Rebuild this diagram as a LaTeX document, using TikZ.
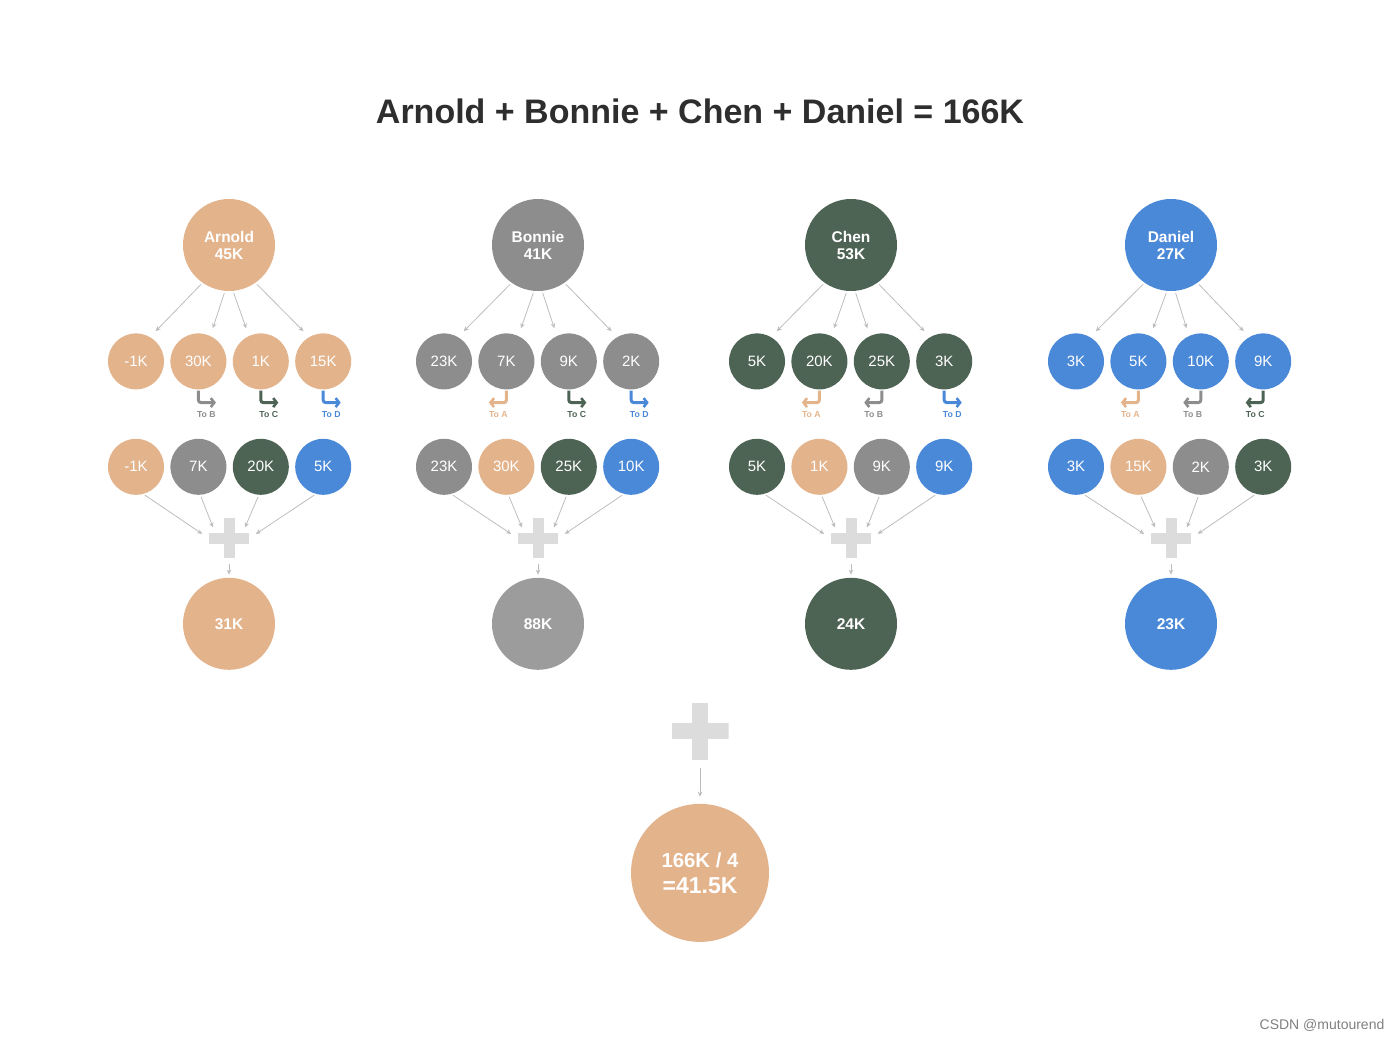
\documentclass[tikz,border=0pt]{standalone}
\usepackage{fontspec}
\setmainfont{Liberation Sans}
\usetikzlibrary{arrows.meta,positioning,calc}
\definecolor{ctan}{HTML}{E3B38B}
\definecolor{cgray}{HTML}{8D8D8D}
\definecolor{cgraylt}{HTML}{9C9C9C}
\definecolor{cgreen}{HTML}{4D6354}
\definecolor{cblue}{HTML}{4A88D8}
\definecolor{plusgray}{HTML}{DCDCDC}
\definecolor{linkgray}{HTML}{BDBDBD}
\definecolor{titlegray}{HTML}{2E2E2E}
\tikzset{
  person/.style={circle, minimum size=92pt, inner sep=0pt, text=white, align=center, font=\bfseries\fontsize{15.5}{17}\selectfont},
  share/.style={circle, minimum size=56pt, inner sep=0pt, text=white, font=\fontsize{15}{17}\selectfont},
  final/.style={circle, minimum size=138pt, inner sep=0pt, text=white, align=center, font=\bfseries\fontsize{23}{26}\selectfont},
  plussign/.style 2 args={minimum size=#1, inner sep=0pt, path picture={
      \fill[plusgray] ([xshift=-#1/2, yshift=-#2/2]path picture bounding box.center) rectangle ([xshift=#1/2, yshift=#2/2]path picture bounding box.center);
      \fill[plusgray] ([xshift=-#2/2, yshift=-#1/2]path picture bounding box.center) rectangle ([xshift=#2/2, yshift=#1/2]path picture bounding box.center);}},
  link/.style={-{Stealth[length=5pt,width=4.5pt]}, linkgray, line width=0.8pt, shorten >=8pt, shorten <=2pt},
  xfer/.style={-{Straight Barb[length=3.5pt,width=9pt,line width=2.6pt]}, line width=3pt, rounded corners=2.5pt, shorten <=1pt},
  tolbl/.style={font=\bfseries\fontsize{8.7}{10}\selectfont, inner xsep=0pt, inner ysep=8.9pt}
}

\begin{document}
\begin{tikzpicture}[x=1pt, y=1pt, node distance=6pt]
\useasboundingbox (0,0) rectangle (1400,-1040);
\node[font=\bfseries\fontsize{34}{40}\selectfont, text=titlegray] (title) at (700,-111) {Arnold + Bonnie + Chen + Daniel = 166K};

% Arnold
\node[person, fill=ctan] (ga) at (229,-245) {Arnold\\45K};
\node[share, fill=ctan, below=42pt of ga, xshift=-93pt] (ga1) {-1K};
\node[share, fill=ctan, right=of ga1] (ga2) {30K};
\node[share, fill=ctan, right=of ga2] (ga3) {1K};
\node[share, fill=ctan, right=of ga3] (ga4) {15K};
\node[tolbl, text=cgray, below=13pt of ga2, xshift=8pt] (xa2) {To B};
\node[tolbl, text=cgreen, below=13pt of ga3, xshift=8pt] (xa3) {To C};
\node[tolbl, text=cblue, below=13pt of ga4, xshift=8pt] (xa4) {To D};
\draw[xfer, cgray] (ga2.south) |- (xa2.north east);
\draw[xfer, cgreen] (ga3.south) |- (xa3.north east);
\draw[xfer, cblue] (ga4.south) |- (xa4.north east);
\node[share, fill=ctan, below=49pt of ga1] (ra1) {-1K};
\node[share, fill=cgray, right=of ra1] (ra2) {7K};
\node[share, fill=cgreen, right=of ra2] (ra3) {20K};
\node[share, fill=cblue, right=of ra3] (ra4) {5K};
\node[plussign={40pt}{11pt}, below=227pt of ga] (pa) {};
\node[person, fill=ctan, below=19pt of pa] (sa) {31K};

% Bonnie
\node[person, fill=cgray] (gb) at (538,-245) {Bonnie\\41K};
\node[share, fill=cgray, below=42pt of gb, xshift=-94pt] (gb1) {23K};
\node[share, fill=cgray, right=of gb1] (gb2) {7K};
\node[share, fill=cgray, right=of gb2] (gb3) {9K};
\node[share, fill=cgray, right=of gb3] (gb4) {2K};
\node[tolbl, text=ctan, below=13pt of gb2, xshift=-8pt] (xb2) {To A};
\node[tolbl, text=cgreen, below=13pt of gb3, xshift=8pt] (xb3) {To C};
\node[tolbl, text=cblue, below=13pt of gb4, xshift=8pt] (xb4) {To D};
\draw[xfer, ctan] (gb2.south) |- (xb2.north west);
\draw[xfer, cgreen] (gb3.south) |- (xb3.north east);
\draw[xfer, cblue] (gb4.south) |- (xb4.north east);
\node[share, fill=cgray, below=49pt of gb1] (rb1) {23K};
\node[share, fill=ctan, right=of rb1] (rb2) {30K};
\node[share, fill=cgreen, right=of rb2] (rb3) {25K};
\node[share, fill=cblue, right=of rb3] (rb4) {10K};
\node[plussign={40pt}{11pt}, below=227pt of gb] (pb) {};
\node[person, fill=cgraylt, below=19pt of pb] (sb) {88K};

% Chen
\node[person, fill=cgreen] (gc) at (851,-245) {Chen\\53K};
\node[share, fill=cgreen, below=42pt of gc, xshift=-94pt] (gc1) {5K};
\node[share, fill=cgreen, right=of gc1] (gc2) {20K};
\node[share, fill=cgreen, right=of gc2] (gc3) {25K};
\node[share, fill=cgreen, right=of gc3] (gc4) {3K};
\node[tolbl, text=ctan, below=13pt of gc2, xshift=-8pt] (xc2) {To A};
\node[tolbl, text=cgray, below=13pt of gc3, xshift=-8pt] (xc3) {To B};
\node[tolbl, text=cblue, below=13pt of gc4, xshift=8pt] (xc4) {To D};
\draw[xfer, ctan] (gc2.south) |- (xc2.north west);
\draw[xfer, cgray] (gc3.south) |- (xc3.north west);
\draw[xfer, cblue] (gc4.south) |- (xc4.north east);
\node[share, fill=cgreen, below=49pt of gc1] (rc1) {5K};
\node[share, fill=ctan, right=of rc1] (rc2) {1K};
\node[share, fill=cgray, right=of rc2] (rc3) {9K};
\node[share, fill=cblue, right=of rc3] (rc4) {9K};
\node[plussign={40pt}{11pt}, below=227pt of gc] (pc) {};
\node[person, fill=cgreen, below=19pt of pc] (sc) {24K};

% Daniel
\node[person, fill=cblue] (gd) at (1171,-245) {Daniel\\27K};
\node[share, fill=cblue, below=42pt of gd, xshift=-95pt] (gd1) {3K};
\node[share, fill=cblue, right=of gd1] (gd2) {5K};
\node[share, fill=cblue, right=of gd2] (gd3) {10K};
\node[share, fill=cblue, right=of gd3] (gd4) {9K};
\node[tolbl, text=ctan, below=13pt of gd2, xshift=-8pt] (xd2) {To A};
\node[tolbl, text=cgray, below=13pt of gd3, xshift=-8pt] (xd3) {To B};
\node[tolbl, text=cgreen, below=13pt of gd4, xshift=-8pt] (xd4) {To C};
\draw[xfer, ctan] (gd2.south) |- (xd2.north west);
\draw[xfer, cgray] (gd3.south) |- (xd3.north west);
\draw[xfer, cgreen] (gd4.south) |- (xd4.north west);
\node[share, fill=cblue, below=49pt of gd1] (rd1) {3K};
\node[share, fill=ctan, right=of rd1] (rd2) {15K};
\node[share, fill=cgray, right=of rd2] (rd3) {2K};
\node[share, fill=cgreen, right=of rd3] (rd4) {3K};
\node[plussign={40pt}{11pt}, below=227pt of gd] (pd) {};
\node[person, fill=cblue, below=19pt of pd] (sd) {23K};

% links inside each group
\foreach \g in {a,b,c,d}{
  \draw[link] (g\g.235) -- (g\g1.60);
  \draw[link] (g\g.265) -- (g\g2.65);
  \draw[link] (g\g.275) -- (g\g3.115);
  \draw[link] (g\g.305) -- (g\g4.120);
  \draw[link] (r\g1.285) -- (p\g.west);
  \draw[link, shorten >=0pt] (r\g2.274) -- ($(p\g)+(-16,11)$);
  \draw[link, shorten >=0pt] (r\g3.266) -- ($(p\g)+(16,11)$);
  \draw[link] (r\g4.255) -- (p\g.east);
  \draw[link, shorten <=5pt, shorten >=3pt] (p\g.south) -- (s\g.north);
}

% grand total
\node[plussign={57pt}{16pt}] (P) at (700,-731) {};
\node[final, fill=ctan, below=44pt of P] (F) {{\fontsize{20.3}{26}\selectfont 166K / 4}\\=41.5K};
\draw[link, shorten <=8.5pt, shorten >=7pt] (P.south) -- (F.north);

\node[font=\fontsize{14}{16}\selectfont, text=gray] (mark) at (1322,-1025) {CSDN @mutourend};
\end{tikzpicture}
\end{document}
